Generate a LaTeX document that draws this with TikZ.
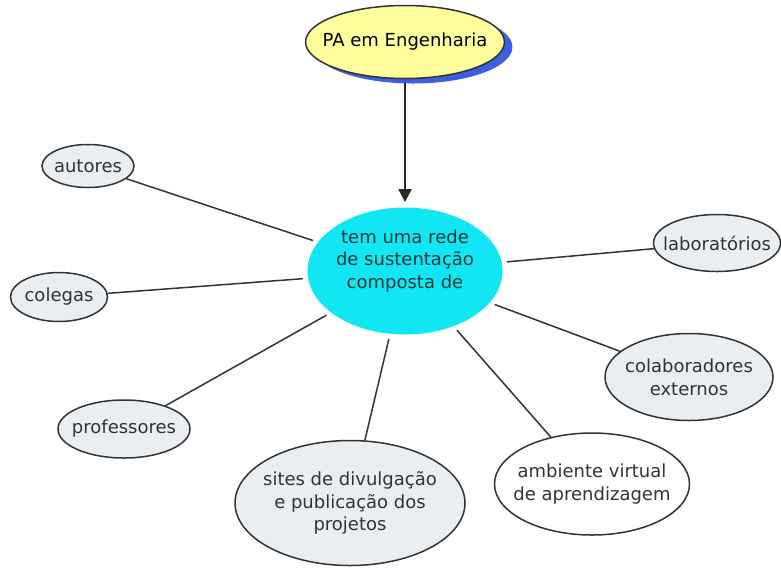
\documentclass[tikz,border=0pt]{standalone}
\usepackage{fontspec}
\setmainfont{DejaVu Sans}
\usetikzlibrary{arrows.meta,shapes.geometric,shadows}
\definecolor{ink}{HTML}{333333}
\definecolor{paleyel}{HTML}{FFFF9E}
\definecolor{royal}{HTML}{3A5FE0}
\definecolor{aqua}{HTML}{12E6F2}
\definecolor{mist}{HTML}{E8EEF2}
\definecolor{deepteal}{HTML}{163A3C}
\tikzset{concept/.style={ellipse,draw=ink,line width=.75pt,fill=mist,inner xsep=-6pt,inner ysep=0pt,
    align=center,text=ink,font=\fontsize{9}{11.4}\selectfont},
  topic/.style={concept,fill=paleyel,text=black,
    drop shadow={fill=royal,opacity=1,shadow xshift=4pt,shadow yshift=-2.5pt}},
  hub/.style={ellipse,fill=aqua,inner sep=0pt},
  hubtext/.style={align=center,inner sep=0pt,text=deepteal,font=\fontsize{9}{11.4}\selectfont},
  link/.style={draw=ink,line width=.75pt,shorten <=2.5pt}}

\begin{document}
\begin{tikzpicture}[x=.5pt,y=-.5pt]
\useasboundingbox (0,0) rectangle (781,569);
\node[topic,minimum width=98pt,minimum height=36.5pt] (pa) at (405,42) {PA em Engenharia};
\node[hub,minimum width=97.5pt,minimum height=63.5pt] (rede) at (405,271) {};
\node[hubtext] (redetxt) at (405,261) {tem uma rede\\de sustentação\\composta de};
\draw[-{Triangle[length=6.5pt,width=6.5pt]},line width=1pt,draw=ink!80!black,shorten <=2pt,shorten >=2.5pt] (pa) -- (rede);
% ramos
\node[concept,minimum width=46pt,minimum height=21.5pt] (autores) at (88,166) {autores};
\node[concept,minimum width=48.5pt,minimum height=24.5pt] (colegas) at (59,297) {colegas};
\node[concept,minimum width=66pt,minimum height=29pt] (prof) at (124,429) {professores};
\node[concept,minimum width=115pt,minimum height=62.5pt] (sites) at (350,503) {sites de divulgação\\e publicação dos\\projetos};
\node[concept,fill=white,minimum width=97.5pt,minimum height=51pt] (amb) at (592,484) {ambiente virtual\\de aprendizagem};
\node[concept,minimum width=84pt,minimum height=43.5pt] (colab) at (689,377) {colaboradores\\externos};
\node[concept,minimum width=63.5pt,minimum height=28.5pt] (lab) at (717,243) {laboratórios};
\foreach \n in {autores,colegas,prof,sites,amb,colab,lab}
  \draw[link] (rede) -- (\n);
\end{tikzpicture}
\end{document}
